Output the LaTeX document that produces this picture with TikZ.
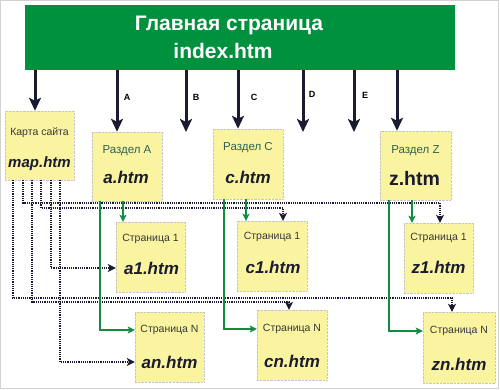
\documentclass[tikz,border=0pt]{standalone}
\usepackage{fontspec}
\setmainfont{Liberation Sans}
\usetikzlibrary{arrows.meta}

\definecolor{bannergreen}{RGB}{0,145,62}
\definecolor{boxyellow}{RGB}{250,244,160}
\definecolor{linkgreen}{RGB}{18,140,62}
\definecolor{inkblue}{RGB}{26,26,48}
\definecolor{capteal}{RGB}{48,96,84}
\definecolor{capgray}{RGB}{55,55,60}

\tikzset{
  pagebox/.style={draw=gray!45, densely dotted, fill=boxyellow, inner sep=0pt,
    minimum width=70pt, minimum height=70pt},
  mainarrow/.style={line width=3pt, draw=inkblue, -{Stealth[length=13pt,width=12pt,inset=3pt]}},
  greenlink/.style={line width=1.2pt, draw=linkgreen, -{Stealth[length=7pt,width=7pt,inset=1.5pt]}},
  maplink/.style={line width=1.2pt, draw=inkblue, densely dotted, -{Stealth[length=8pt,width=8pt,inset=2pt]}},
  bannertxt/.style={font=\fontsize{21}{24}\selectfont\bfseries, text=white},
  captxt/.style={font=\fontsize{11.5}{13}\selectfont, text=capteal},
  pagetxt/.style={font=\fontsize{10.5}{12}\selectfont, text=capgray},
  filetxt/.style={font=\fontsize{17}{20}\selectfont\bfseries\itshape, text=inkblue},
  letter/.style={font=\fontsize{9}{10}\selectfont\bfseries, text=black},
}

\begin{document}
\begin{tikzpicture}[x=1pt, y=-1pt]
    \useasboundingbox (0,0) rectangle (500,390);
    \draw[gray!35, line width=1pt] (0.5,0.5) rectangle (498.5,388.5);

    % Main page
    \node[fill=bannergreen, minimum width=430pt, minimum height=65pt, inner sep=0pt] (banner) at (240,37.5) {};
    \node[bannertxt] (bannerTitle) at (229,25) {Главная страница};
    \node[bannertxt] (bannerFile) at (223,51) {index.htm};

    % Site map and sections
    \node[pagebox, minimum width=69pt, minimum height=69pt] (map) at (39.5,145.5) {};
    \node[pagetxt] (mapCap) at (39.5,133) {Карта сайта};
    \node[filetxt, font=\fontsize{15}{18}\selectfont\bfseries\itshape] (mapFile) at (39.5,164) {map.htm};

    \node[pagebox, minimum height=69pt] (secA) at (127,166.5) {};
    \node[captxt] (secACap) at (127,151) {Раздел A};
    \node[filetxt] (secAFile) at (126,177) {a.htm};

    \node[pagebox] (secC) at (248,164) {};
    \node[captxt] (secCCap) at (248,148) {Раздел C};
    \node[filetxt] (secCFile) at (248,177) {c.htm};

    \node[pagebox, minimum width=71pt, minimum height=69pt] (secZ) at (415.5,165.5) {};
    \node[captxt] (secZCap) at (415.5,151) {Раздел Z};
    \node[filetxt, font=\fontsize{19.5}{22}\selectfont\bfseries] (secZFile) at (414.5,179) {z.htm};

    % Pages
    \node[pagebox, minimum width=69pt] (a1) at (150.5,257) {};
    \node[pagetxt] (a1Cap) at (150.5,239) {Страница 1};
    \node[filetxt] (a1File) at (151.5,268) {a1.htm};

    \node[pagebox, minimum width=69pt] (an) at (169.5,347) {};
    \node[pagetxt] (anCap) at (169.5,330) {Страница N};
    \node[filetxt] (anFile) at (169.5,362) {an.htm};

    \node[pagebox] (c1) at (272,256) {};
    \node[pagetxt] (c1Cap) at (272,237) {Страница 1};
    \node[filetxt] (c1File) at (273,267) {c1.htm};

    \node[pagebox] (cn) at (292,345) {};
    \node[pagetxt] (cnCap) at (292,329) {Страница N};
    \node[filetxt] (cnFile) at (292,361) {cn.htm};

    \node[pagebox, minimum width=69pt] (z1) at (438.5,258) {};
    \node[pagetxt] (z1Cap) at (438.5,238) {Страница 1};
    \node[filetxt] (z1File) at (438.5,267) {z1.htm};

    \node[pagebox, minimum width=72pt, minimum height=71pt] (zn) at (459,347.5) {};
    \node[pagetxt] (znCap) at (459,331) {Страница N};
    \node[filetxt] (znFile) at (459,364) {zn.htm};

    % Links from the main page
    \coordinate (endB) at (186,132);
    \coordinate (endD) at (303,132);
    \coordinate (endE) at (354,132);
    \draw[mainarrow] (banner.south -| 35,0) -- (map.north -| 35,0);
    \draw[mainarrow] (banner.south -| 117,0) -- (secA.north -| 117,0);
    \draw[mainarrow] (banner.south -| endB) -- (endB);
    \draw[mainarrow] (banner.south -| 238,0) -- (secC.north -| 238,0);
    \draw[mainarrow] (banner.south -| endD) -- (endD);
    \draw[mainarrow] (banner.south -| endE) -- (endE);
    \draw[mainarrow] (banner.south -| 397,0) -- (secZ.north -| 397,0);
    \node[letter] (lblA) at (127,97) {A};
    \node[letter] (lblB) at (196,97) {B};
    \node[letter] (lblC) at (254,97) {C};
    \node[letter] (lblD) at (312,94) {D};
    \node[letter] (lblE) at (365,95) {E};

    % Links from the site map
    \draw[maplink] (map.south -| 13,0) |- (452,298) -- (zn.north -| 452,0);
    \draw[maplink] (map.south -| 23,0) |- (440,203) -- (z1.north -| 440,0);
    \draw[maplink] (map.south -| 32,0) |- (289,302) -- (cn.north -| 289,0);
    \draw[maplink] (map.south -| 41,0) |- (283,208) -- (c1.north -| 283,0);
    \draw[maplink] (map.south -| 51,0) |- (a1.west |- a1File);
    \draw[maplink] (map.south -| 60,0) |- (an.west |- anFile);

    % Links inside the sections
    \draw[greenlink] (secA.south -| 123,0) -- (a1.north -| 123,0);
    \draw[greenlink] (secA.south -| 100,0) |- (an.west |- anCap);
    \draw[greenlink] (secC.south -| 246,0) -- (c1.north -| 246,0);
    \draw[greenlink] (secC.south -| 224,0) |- (cn.west |- cnCap);
    \draw[greenlink] (secZ.south -| 412,0) -- (z1.north -| 412,0);
    \draw[greenlink] (secZ.south -| 389,0) |- (zn.west |- znCap);
\end{tikzpicture}
\end{document}
